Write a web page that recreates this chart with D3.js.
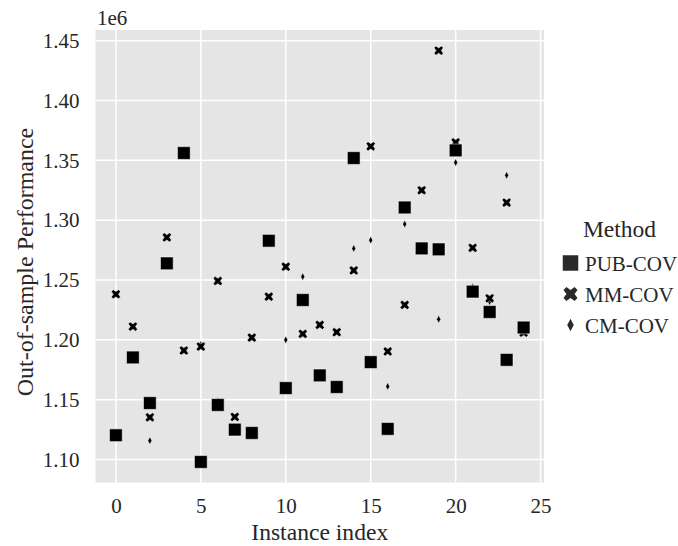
<!DOCTYPE html>
<html>
<head>
<meta charset="utf-8">
<script src="https://cdn.jsdelivr.net/npm/d3@7"></script>
<style>
body { margin: 0; background: #fff; }
text { font-family: "Liberation Serif", "Times New Roman", serif; fill: #262626; }
</style>
</head>
<body>
<div id="chart"></div>
<script>
// instance index 0..24, values in units of 1e6
var instances = d3.range(25);
var methods = ["PUB-COV", "MM-COV", "CM-COV"];
var pubCov = [1.1203, 1.1853, 1.1472, 1.2639, 1.3561, 1.0980, 1.1456, 1.1250, 1.1222, 1.2828,
	1.1597, 1.2333, 1.1703, 1.1606, 1.3519, 1.1814, 1.1256, 1.3106, 1.2764, 1.2756,
	1.3583, 1.2403, 1.2233, 1.1833, 1.2103];
var mmCov = [1.2381, 1.2111, 1.1353, 1.2856, 1.1911, 1.1944, 1.2492, 1.1356, 1.2019, 1.2361,
	1.2611, 1.2050, 1.2125, 1.2064, 1.2580, 1.3617, 1.1903, 1.2292, 1.3250, 1.4417,
	1.3650, 1.2769, 1.2347, 1.3147, 1.2060];
var cmCov = [1.1210, 1.1860, 1.1158, 1.2640, 1.3560, 1.1960, 1.1490, 1.1260, 1.1220, 1.2830,
	1.2000, 1.2528, 1.1700, 1.1610, 1.2764, 1.2833, 1.1611, 1.2967, 1.2770, 1.2172,
	1.3481, 1.2442, 1.2320, 1.3375, 1.2100];
var xTicks = [0, 5, 10, 15, 20, 25];
var yTicks = [1.10, 1.15, 1.20, 1.25, 1.30, 1.35, 1.40, 1.45];

var layout = { w: 678, h: 546, left: 95.5, right: 544, top: 30, bottom: 482.5 };

var svg = d3.select("#chart").append("svg")
	.attr("width", layout.w)
	.attr("height", layout.h);

// seaborn-ish margins: 5% of data range
var allY = pubCov.concat(mmCov, cmCov);
var yMin = d3.min(allY), yMax = d3.max(allY), yPad = (yMax - yMin) * 0.05;

var xScale = d3.scaleLinear().domain([-1.2, 25.2]).range([layout.left, layout.right]);
var yScale = d3.scaleLinear().domain([yMin - yPad, yMax + yPad]).range([layout.bottom, layout.top]);

svg.append("rect")
	.attr("x", layout.left)
	.attr("y", layout.top)
	.attr("width", layout.right - layout.left)
	.attr("height", layout.bottom - layout.top)
	.style("fill", "#e5e5e5");

// grid
svg.append("g").selectAll("line")
	.data(xTicks).enter().append("line")
	.attr("x1", function(d){ return xScale(d); })
	.attr("x2", function(d){ return xScale(d); })
	.attr("y1", layout.top).attr("y2", layout.bottom)
	.style("stroke", "#fff").style("stroke-width", 1.5);
svg.append("g").selectAll("line")
	.data(yTicks).enter().append("line")
	.attr("y1", function(d){ return yScale(d); })
	.attr("y2", function(d){ return yScale(d); })
	.attr("x1", layout.left).attr("x2", layout.right)
	.style("stroke", "#fff").style("stroke-width", 1.5);

// axes
var xAxis = svg.append("g")
	.attr("transform", "translate(0," + layout.bottom + ")")
	.call(d3.axisBottom(xScale).tickValues(xTicks).tickSize(0).tickPadding(15.5));
var yAxis = svg.append("g")
	.attr("transform", "translate(" + layout.left + ",0)")
	.call(d3.axisLeft(yScale).tickValues(yTicks).tickSize(0).tickPadding(16).tickFormat(d3.format(".2f")));
[xAxis, yAxis].forEach(function(a){
	a.select(".domain").remove();
	a.selectAll("text").style("font-size", "21px").style("font-family", "Liberation Serif").style("fill", "#262626");
});

svg.append("text")
	.attr("x", layout.left + 1.5)
	.attr("y", 25)
	.style("font-size", "21px")
	.text("1e6");

svg.append("text")
	.attr("x", (layout.left + layout.right) / 2)
	.attr("y", 539.5)
	.attr("text-anchor", "middle")
	.style("font-size", "23.6px")
	.text("Instance index");

svg.append("text")
	.attr("transform", "translate(33,262) rotate(-90)")
	.attr("text-anchor", "middle")
	.style("font-size", "24px")
	.text("Out-of-sample Performance");

// marker shapes
function squarePath(s){ var h = s / 2; return "M" + (-h) + "," + (-h) + "H" + h + "V" + h + "H" + (-h) + "Z"; }
function diamondPath(w, h){ return "M0," + (-h / 2) + "L" + (w / 2) + ",0L0," + (h / 2) + "L" + (-w / 2) + ",0Z"; }
function xPath(s, t){
	// filled X, s = half extent, t = half arm thickness
	var a = t;
	return "M" + (-s + a) + "," + (-s) + "L0," + (-a * 1.4) + "L" + (s - a) + "," + (-s) + "L" + s + "," + (-s + a) +
		"L" + (a * 1.4) + ",0L" + s + "," + (s - a) + "L" + (s - a) + "," + s + "L0," + (a * 1.4) +
		"L" + (-s + a) + "," + s + "L" + (-s) + "," + (s - a) + "L" + (-a * 1.4) + ",0L" + (-s) + "," + (-s + a) + "Z";
}

var shapes = {
	"PUB-COV": squarePath(12.7),
	"MM-COV": xPath(4.6, 1.9),
	"CM-COV": diamondPath(4, 7.8)
};
var legendShapes = {
	"PUB-COV": squarePath(15.5),
	"MM-COV": xPath(7, 2.9),
	"CM-COV": diamondPath(6.5, 12.5)
};

var series = [
	{ name: "CM-COV", values: cmCov },
	{ name: "MM-COV", values: mmCov },
	{ name: "PUB-COV", values: pubCov }
];

var points = svg.append("g").attr("class", "points");
series.forEach(function(s){
	points.append("g").selectAll("path")
		.data(s.values).enter().append("path")
		.attr("d", shapes[s.name])
		.attr("transform", function(d, i){ return "translate(" + xScale(instances[i]) + "," + yScale(d) + ")"; })
		.style("fill", "#000")
		.style("stroke", "#fff")
		.style("stroke-width", 0.5);
});

// legend
var legend = svg.append("g").attr("class", "legend");
legend.append("text")
	.attr("x", 619.5)
	.attr("y", 237)
	.attr("text-anchor", "middle")
	.style("font-size", "23.5px")
	.text("Method");
var items = legend.selectAll(".item")
	.data(methods).enter().append("g")
	.attr("transform", function(d, i){ return "translate(570.5," + (263 + i * 31) + ")"; });
items.append("path")
	.attr("d", function(d){ return legendShapes[d]; })
	.style("fill", "#2a2a2a");
items.append("text")
	.attr("x", 14.5)
	.attr("y", 7.5)
	.style("font-size", "21px")
	.text(function(d){ return d; });
</script>
</body>
</html>
